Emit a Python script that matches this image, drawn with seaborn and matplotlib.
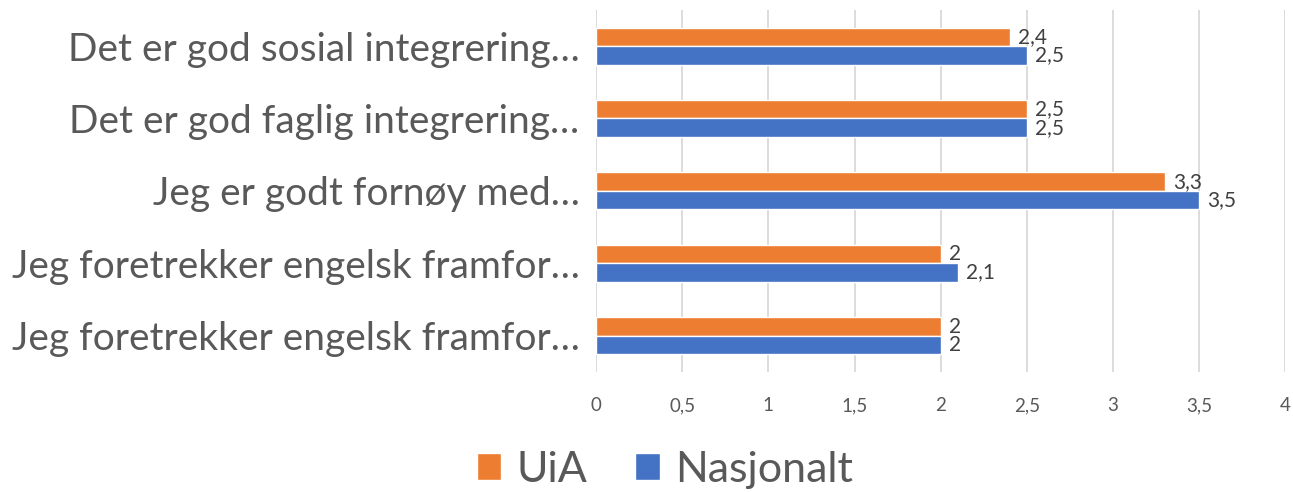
import matplotlib
matplotlib.use("Agg")
import matplotlib.pyplot as plt
import seaborn as sns
import pandas as pd

categories = [
    "Det er god sosial integrering…",
    "Det er god faglig integrering…",
    "Jeg er godt fornøy med…",
    "Jeg foretrekker engelsk framfor…",
    "Jeg foretrekker engelsk framfor…",
]
uia = [2.4, 2.5, 3.3, 2.0, 2.0]
nasjonalt = [2.5, 2.5, 3.5, 2.1, 2.0]
series = ["UiA", "Nasjonalt"]
xticks = [0, 0.5, 1, 1.5, 2, 2.5, 3, 3.5, 4]

keys = [f"k{i}" for i in range(len(categories))]
rows = []
for k, a, b in zip(keys, uia, nasjonalt):
    rows.append({"cat": k, "serie": "UiA", "val": a})
    rows.append({"cat": k, "serie": "Nasjonalt", "val": b})
df = pd.DataFrame(rows)

sns.set_theme(style="white")
plt.rcParams["font.family"] = ["Lato", "DejaVu Sans"]
txt = "#595959"

fig = plt.figure(figsize=(12.93, 4.92), dpi=100)
ax = fig.add_axes([0.461, 0.244, 0.533, 0.736])
sns.barplot(data=df, y="cat", x="val", hue="serie", order=keys,
            hue_order=series, palette=["#ED7D31", "#4472C4"], orient="h",
            width=0.51, ax=ax, saturation=1, legend=True)

def fmt(v):
    s = f"{v:.1f}".replace(".", ",")
    return s[:-2] if s.endswith(",0") else s

for cont in ax.containers:
    ax.bar_label(cont, labels=[fmt(v) for v in cont.datavalues], padding=6,
                 fontsize=15, color="#404040")

ax.set_yticks(range(len(categories)))
ax.set_yticklabels(categories)
ax.set_xlim(0, 4)
ax.set_xticks(xticks)
ax.set_xticklabels([fmt(t) for t in xticks], fontsize=13.5, color=txt)
ax.tick_params(axis="x", pad=18, length=0)
ax.tick_params(axis="y", length=0, pad=12, labelsize=28, labelcolor=txt)
ax.set_xlabel("")
ax.set_ylabel("")
ax.grid(axis="x", color="#D9D9D9", linewidth=1.3)
ax.set_axisbelow(True)
for s in ax.spines.values():
    s.set_visible(False)

h, l = ax.get_legend_handles_labels()
ax.legend_.remove()
fig.legend(h, l, loc="center", bbox_to_anchor=(0.514, 0.045), ncol=2,
           frameon=False, fontsize=31, handlelength=0.58, handleheight=0.58,
           handletextpad=0.35, columnspacing=1.1, labelcolor=txt)

fig.savefig("out.png", dpi=100)
